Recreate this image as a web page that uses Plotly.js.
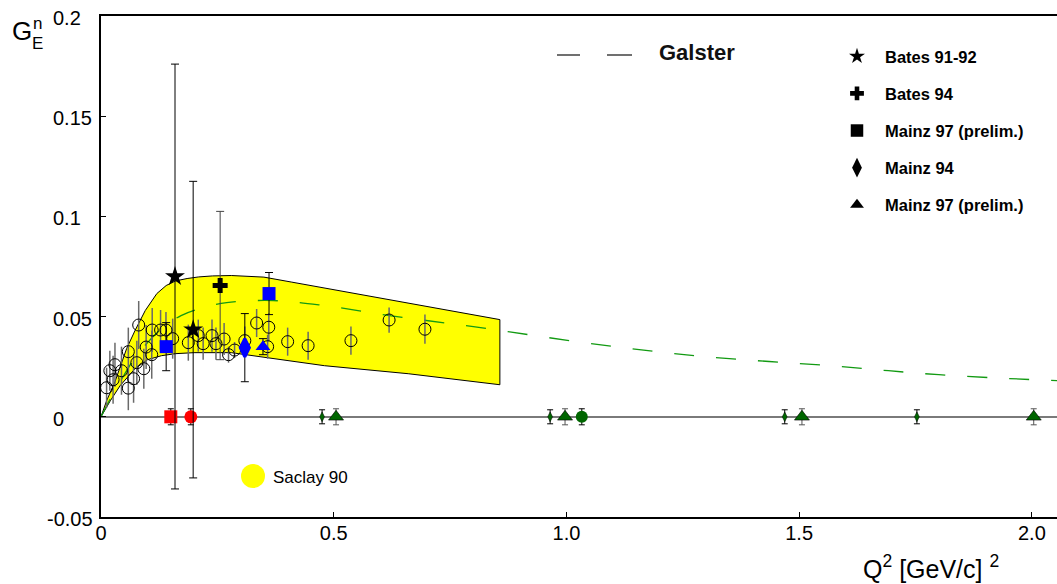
<!DOCTYPE html>
<html>
<head>
<meta charset="utf-8">
<script src="https://cdn.plot.ly/plotly-3.0.1.min.js"></script>
<style>
  html, body { margin: 0; padding: 0; background: #fff; }
  #chart { width: 1057px; height: 584px; }
</style>
</head>
<body>
<div id="chart"></div>
<script>
// Neutron electric form factor G_E^n versus Q^2

// Saclay 90 band (upper and lower edges)
const bandUpperQ2 = [0, 0.012, 0.03, 0.041, 0.055, 0.073, 0.095, 0.12, 0.14, 0.16, 0.185, 0.21, 0.24, 0.28, 0.35, 0.41, 0.51, 0.66, 0.857];
const bandUpperG  = [0, 0.008, 0.0175, 0.0245, 0.034, 0.043, 0.053, 0.0615, 0.0655, 0.0678, 0.069, 0.0698, 0.0703, 0.0705, 0.0697, 0.0672, 0.0630, 0.0570, 0.0485];
const bandLowerQ2 = [0, 0.02, 0.041, 0.073, 0.1, 0.13, 0.16, 0.2, 0.28, 0.35, 0.48, 0.66, 0.857];
const bandLowerG  = [0, 0.008, 0.0155, 0.024, 0.0285, 0.0305, 0.0315, 0.032, 0.032, 0.0295, 0.0255, 0.0215, 0.016];

// Galster parametrisation
const galsterQ2 = [0, 0.02, 0.05, 0.073, 0.1, 0.13, 0.172, 0.22, 0.27, 0.37, 0.48, 0.62, 0.8, 1.07, 1.3, 1.566, 1.8, 2.055];
const galsterG  = [0, 0.009, 0.021, 0.0295, 0.037, 0.044, 0.0505, 0.0545, 0.057, 0.058, 0.0555, 0.0505, 0.045, 0.036, 0.030, 0.0255, 0.021, 0.018];

// Open circles
const openQ2  = [0.012, 0.019, 0.026, 0.030, 0.044, 0.0587, 0.0587, 0.070, 0.077, 0.081, 0.092, 0.097, 0.110, 0.109, 0.128, 0.1396, 0.154,
                 0.1876, 0.209, 0.2195, 0.2385, 0.247, 0.2645, 0.274, 0.287, 0.309, 0.3344, 0.3605, 0.358, 0.401, 0.445, 0.537, 0.619, 0.696];
const openG   = [0.0145, 0.023, 0.0185, 0.026, 0.023, 0.0143, 0.0325, 0.019, 0.027, 0.0458, 0.024, 0.0348, 0.0433, 0.031, 0.0433, 0.0433, 0.039,
                 0.037, 0.0405, 0.0365, 0.0405, 0.0365, 0.0388, 0.031, 0.0333, 0.038, 0.0468, 0.0447, 0.035, 0.0375, 0.0355, 0.038, 0.0483, 0.0437];
const openErr = [0.010, 0.010, 0.012, 0.011, 0.012, 0.011, 0.012, 0.012, 0.011, 0.012, 0.010, 0.011, 0.011, 0.012, 0.010, 0.009, 0.010,
                 0.009, 0.008, 0.008, 0.008, 0.008, 0.008, 0.004, 0.004, 0.007, 0.007, 0.007, 0.006, 0.007, 0.007, 0.007, 0.0063, 0.0073];

// Bates 91-92 (stars)
const bates9192Q2 = [0.159, 0.198];
const bates9192G  = [0.070, 0.0435];
const bates9192Err = [0.106, 0.074];

// Bates 94 (cross)
const bates94Q2 = [0.256];
const bates94G  = [0.0655];
const bates94Err = [0.037];

// Mainz 97 prelim. (squares)
const mainz97sQ2 = [0.140, 0.361];
const mainz97sG  = [0.035, 0.0615];
const mainz97sErr = [0.012, 0.0105];

// Mainz 94 (diamond)
const mainz94Q2 = [0.309];
const mainz94G  = [0.0345];
const mainz94Err = [0.017];

// Mainz 97 prelim. (triangle)
const mainz97tQ2 = [0.348];
const mainz97tG  = [0.035];
const mainz97tErr = [0.004];

// Projected points on the zero line
const redSquareQ2 = [0.150];
const redSquareG  = [0];
const redSquareErr = [0.004];
const redCircleQ2 = [0.193];
const redCircleG  = [0];
const redCircleErr = [0.004];
const greenDiamondQ2 = [0.475, 0.965, 1.469, 1.753];
const greenDiamondG  = [0, 0, 0, 0];
const greenDiamondErr = [0.0035, 0.0035, 0.0035, 0.0035];
const greenTriangleQ2 = [0.505, 0.997, 1.506, 2.004];
const greenTriangleG  = [0, 0, 0, 0];
const greenTriangleErr = [0.004, 0.004, 0.004, 0.004];
const greenCircleQ2 = [1.033];
const greenCircleG  = [0];
const greenCircleErr = [0.004];

// Axis ticks
const xTickVals = [0, 0.5, 1, 1.5, 2];
const xTickText = ['0', '0.5', '1.0', '1.5', '2.0'];
const yTickVals = [0.2, 0.15, 0.1, 0.05, 0, -0.05];
const yTickText = ['0.2', '0.15', '0.1', '0.05', '0', '-0.05'];

// Legend entries
const legendNames = ['Bates 91-92', 'Bates 94', 'Mainz 97 (prelim.)', 'Mainz 94', 'Mainz 97 (prelim.)'];

const FONT = 'Liberation Sans, Arial, Helvetica, sans-serif';
const BLUE = '#0000ff', RED = '#ff0000', GREEN = '#006600', GALSTER_GREEN = '#129a12';

function errs(arr, color, width, thickness) {
  return { type: 'data', array: arr, visible: true, color: color, width: width, thickness: thickness };
}

const traces = [];

// band polygon: upper edge forward, lower edge back
traces.push({
  x: bandUpperQ2.concat(bandLowerQ2.slice().reverse()),
  y: bandUpperG.concat(bandLowerG.slice().reverse()),
  mode: 'lines', fill: 'toself', fillcolor: '#ffff00',
  line: { color: '#000', width: 1 }, showlegend: false, hoverinfo: 'skip'
});

traces.push({
  x: galsterQ2, y: galsterG, mode: 'lines', line: { color: GALSTER_GREEN, width: 1.3, dash: '20px,22px', shape: 'spline' },
  showlegend: false
});

traces.push({
  x: openQ2, y: openG, mode: 'markers',
  marker: { symbol: 'circle-open', size: 12, color: '#000', line: { width: 1, color: '#000' } },
  error_y: errs(openErr, '#6a6a6a', 0, 1.5), showlegend: false
});

traces.push({ x: redSquareQ2, y: redSquareG, mode: 'markers', marker: { symbol: 'square', size: 13, color: RED },
  error_y: errs(redSquareErr, '#000', 3, 1), showlegend: false });
traces.push({ x: redCircleQ2, y: redCircleG, mode: 'markers', marker: { symbol: 'circle', size: 13, color: RED },
  error_y: errs(redCircleErr, '#000', 3, 1), showlegend: false });

traces.push({ x: greenDiamondQ2, y: greenDiamondG, mode: 'markers',
  marker: { symbol: 'diamond-tall', size: 7, color: GREEN, line: { color: '#000', width: 0.5 } },
  error_y: errs(greenDiamondErr, '#000', 3, 1), showlegend: false });
traces.push({ x: greenTriangleQ2, y: greenTriangleG, mode: 'markers',
  marker: { symbol: 'triangle-up', size: 13, color: GREEN, line: { color: '#000', width: 0.6 } },
  error_y: errs(greenTriangleErr, '#555', 3, 1), showlegend: false });
traces.push({ x: greenCircleQ2, y: greenCircleG, mode: 'markers',
  marker: { symbol: 'circle', size: 12, color: GREEN },
  error_y: errs(greenCircleErr, '#000', 3, 1), showlegend: false });

traces.push({ x: bates9192Q2, y: bates9192G, mode: 'markers',
  marker: { symbol: 'star', size: 15, color: '#000' },
  error_y: errs(bates9192Err, '#000', 4, 1), showlegend: false });
traces.push({ x: bates94Q2, y: bates94G, mode: 'markers',
  marker: { symbol: 'cross', size: 12.5, color: '#000' },
  error_y: errs(bates94Err, '#444', 4, 1), showlegend: false });
traces.push({ x: mainz97sQ2, y: mainz97sG, mode: 'markers',
  marker: { symbol: 'square', size: 13, color: BLUE },
  error_y: errs(mainz97sErr, '#000', 4, 1), showlegend: false });
traces.push({ x: mainz94Q2, y: mainz94G, mode: 'markers',
  marker: { symbol: 'diamond-tall', size: 13, color: BLUE, line: { color: BLUE, width: 3 } },
  error_y: errs(mainz94Err, '#000', 4, 1), showlegend: false });
traces.push({ x: mainz97tQ2, y: mainz97tG, mode: 'markers',
  marker: { symbol: 'triangle-up', size: 13, color: BLUE },
  error_y: errs(mainz97tErr, '#000', 4, 1), showlegend: false });

// symbol key (black glyphs, no data)
const keySymbols = ['star', 'cross', 'square', 'diamond-tall', 'triangle-up'];
const keySizes = [12, 11.5, 12.5, 14, 12];
legendNames.forEach((name, i) => {
  traces.push({
    x: [null], y: [null], mode: 'markers', name: name, legendgroup: 'g' + i,
    marker: { symbol: keySymbols[i], size: keySizes[i], color: '#000' },
    showlegend: true, hoverinfo: 'skip'
  });
});

// y tick labels, left-aligned on the integer digit
const yLabelAnns = yTickVals.map((v, i) => ({
  xref: 'paper', yref: 'y', x: 0, y: v, xanchor: 'left', yanchor: 'middle',
  xshift: yTickText[i].startsWith('-') ? -56 : -50, yshift: -2,
  text: yTickText[i], showarrow: false, font: { family: FONT, size: 20, color: '#000' }
}));

const layout = {
  width: 1057, height: 584,
  margin: { l: 101, r: 0, t: 16, b: 67, pad: 0 },
  paper_bgcolor: '#fff', plot_bgcolor: '#fff',
  font: { family: FONT, color: '#000' },
  showlegend: true,
  legend: {
    x: (829 - 101) / 956, xanchor: 'left', y: (517 - 39) / 501, yanchor: 'top',
    font: { family: FONT, size: 16.5, weight: 700, color: '#000' },
    itemwidth: 46, tracegroupgap: 12.7, bgcolor: 'rgba(0,0,0,0)', borderwidth: 0,
    traceorder: 'grouped', itemclick: false, itemdoubleclick: false
  },
  xaxis: {
    range: [0, 2.054], showgrid: false, zeroline: false,
    showline: true, linecolor: '#000', linewidth: 2, mirror: true,
    ticks: 'inside', ticklen: 5, tickwidth: 1, tickcolor: '#000',
    tickvals: xTickVals, ticktext: xTickText, ticklabelstandoff: -3,
    tickfont: { family: FONT, size: 20, color: '#000' }
  },
  yaxis: {
    range: [-0.05, 0.2], showgrid: false,
    zeroline: true, zerolinecolor: '#7a7a7a', zerolinewidth: 2,
    showline: true, linecolor: '#000', linewidth: 2,
    ticks: 'inside', ticklen: 5, tickwidth: 1, tickcolor: '#000',
    tickvals: yTickVals, showticklabels: false
  },
  shapes: [
    // Galster key dashes
    { type: 'line', xref: 'paper', yref: 'paper', x0: (557 - 101) / 956, x1: (580 - 101) / 956,
      y0: (517 - 55) / 501, y1: (517 - 55) / 501, line: { color: '#222', width: 1.3 } },
    { type: 'line', xref: 'paper', yref: 'paper', x0: (607 - 101) / 956, x1: (632 - 101) / 956,
      y0: (517 - 55) / 501, y1: (517 - 55) / 501, line: { color: '#222', width: 1.3 } },
    // Saclay 90 key
    { type: 'circle', xref: 'paper', yref: 'paper', xsizemode: 'pixel', ysizemode: 'pixel',
      xanchor: (253 - 101) / 956, yanchor: (517 - 476) / 501, x0: -12, x1: 12, y0: -12, y1: 12,
      fillcolor: '#ffff00', line: { width: 0 } }
  ],
  annotations: yLabelAnns.concat([
    { xref: 'paper', yref: 'paper', x: 0, y: 1, xshift: -79.5, yshift: -15, xanchor: 'center', yanchor: 'middle',
      text: 'G', showarrow: false, font: { family: FONT, size: 26, color: '#000' } },
    { xref: 'paper', yref: 'paper', x: 0, y: 1, xshift: -64, yshift: -7, xanchor: 'center', yanchor: 'middle',
      text: 'n', showarrow: false, font: { family: FONT, size: 17, color: '#000' } },
    { xref: 'paper', yref: 'paper', x: 0, y: 1, xshift: -64, yshift: -27, xanchor: 'center', yanchor: 'middle',
      text: 'E', showarrow: false, font: { family: FONT, size: 17, color: '#000' } },
    { xref: 'paper', yref: 'paper', x: (861 - 101) / 956, y: 0, yshift: -50, xanchor: 'left', yanchor: 'middle',
      text: 'Q<sup>2</sup> [GeV/c]&nbsp;<sup>2</sup>', showarrow: false, font: { family: FONT, size: 25, color: '#000' } },
    { xref: 'paper', yref: 'paper', x: (657 - 101) / 956, y: (517 - 52) / 501, xanchor: 'left', yanchor: 'middle',
      text: 'Galster', showarrow: false, font: { family: FONT, size: 22, weight: 700, color: '#111' } },
    { xref: 'paper', yref: 'paper', x: (271 - 101) / 956, y: (517 - 477) / 501, xanchor: 'left', yanchor: 'middle',
      text: 'Saclay 90', showarrow: false, font: { family: FONT, size: 17, color: '#000' } }
  ])
};

Plotly.newPlot('chart', traces, layout, { displayModeBar: false, staticPlot: true });
</script>
</body>
</html>
